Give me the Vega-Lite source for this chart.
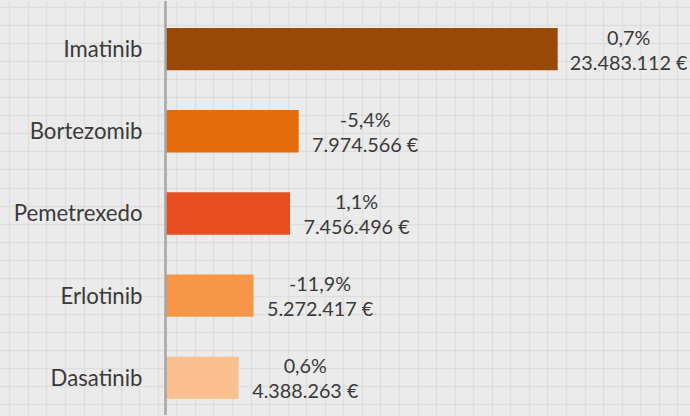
{
  "$schema": "https://vega.github.io/schema/vega-lite/v6.json",
  "width": 690,
  "height": 416,
  "autosize": {"type": "fit", "contains": "padding"},
  "padding": 0,
  "background": "#ebebeb",
  "config": {
    "view": {"stroke": null},
    "font": "Lato",
    "locale": {"number": {"decimal": ",", "thousands": ".", "grouping": [3], "currency": ["", " €"], "minus": "-"}}
  },
  "data": {
    "values": [
      {"farmaco": "Imatinib", "importe": 23483112, "variacion": 0.007},
      {"farmaco": "Bortezomib", "importe": 7974566, "variacion": -0.054},
      {"farmaco": "Pemetrexedo", "importe": 7456496, "variacion": 0.011},
      {"farmaco": "Erlotinib", "importe": 5272417, "variacion": -0.119},
      {"farmaco": "Dasatinib", "importe": 4388263, "variacion": 0.006}
    ]
  },
  "layer": [
    {
      "mark": {"type": "point", "opacity": 0},
      "encoding": {
        "x": {
          "datum": 0, "type": "quantitative",
          "scale": {"domain": [-0.501, 36.68], "nice": false, "zero": false},
          "axis": {"values": [0,1,2,3,4,5,6,7,8,9,10,11,12,13,14,15,16,17,18,19,20,21,22,23,24,25,26,27,28,29,30,31,32,33,34,35,36], "grid": true, "gridColor": "#dedede", "gridWidth": 1.5, "labels": false, "ticks": false, "domain": false, "title": null}
        },
        "y": {
          "datum": 0, "type": "quantitative",
          "scale": {"domain": [-0.331, 22.6], "nice": false, "zero": false, "reverse": true},
          "axis": {"values": [0,1,2,3,4,5,6,7,8,9,10,11,12,13,14,15,16,17,18,19,20,21,22], "grid": true, "gridColor": "#dedede", "gridWidth": 1.5, "labels": false, "ticks": false, "domain": false, "title": null}
        }
      }
    },
    {
      "layer": [
        {
          "mark": {"type": "bar"},
          "encoding": {
            "x": {"field": "importe", "type": "quantitative", "scale": {"domain": [-9909313, 31404438], "nice": false, "zero": false}, "axis": null},
            "y": {"field": "farmaco", "type": "nominal", "sort": null, "scale": {"paddingInner": 0.485, "paddingOuter": 0.2605, "align": 0.628, "round": false}, "axis": null},
            "color": {"field": "farmaco", "type": "nominal", "scale": {"domain": ["Imatinib", "Bortezomib", "Pemetrexedo", "Erlotinib", "Dasatinib"], "range": ["#984807", "#e46c0a", "#e74f22", "#f79646", "#fac090"]}, "legend": null}
          }
        },
        {
          "mark": {"type": "rule", "color": "#a6a6a6", "strokeWidth": 1.5},
          "encoding": {"x": {"datum": 0, "type": "quantitative"}}
        },
        {
          "mark": {"type": "text", "align": "right", "baseline": "alphabetic", "dx": -23, "dy": 8, "fontSize": 22.2, "color": "#3a3a3a"},
          "encoding": {
            "x": {"datum": 0, "type": "quantitative"},
            "y": {"field": "farmaco", "type": "nominal", "sort": null},
            "text": {"field": "farmaco"}
          }
        },
        {
          "transform": [{"filter": "datum.farmaco === 'Imatinib'"}],
          "mark": {"type": "text", "align": "center", "baseline": "alphabetic", "dx": 71, "dy": -4.5, "fontSize": 19.8, "color": "#3a3a3a"},
          "encoding": {
            "x": {"field": "importe", "type": "quantitative"},
            "y": {"field": "farmaco", "type": "nominal", "sort": null},
            "text": {"field": "variacion", "type": "quantitative", "format": ".1%"}
          }
        },
        {
          "transform": [{"filter": "datum.farmaco === 'Imatinib'"}],
          "mark": {"type": "text", "align": "center", "baseline": "alphabetic", "dx": 71, "dy": 20.5, "fontSize": 19.8, "color": "#3a3a3a"},
          "encoding": {
            "x": {"field": "importe", "type": "quantitative"},
            "y": {"field": "farmaco", "type": "nominal", "sort": null},
            "text": {"field": "importe", "type": "quantitative", "format": "$,.0f"}
          }
        },
        {
          "transform": [{"filter": "datum.farmaco !== 'Imatinib'"}],
          "mark": {"type": "text", "align": "center", "baseline": "alphabetic", "dx": 66.5, "dy": -4.5, "fontSize": 19.8, "color": "#3a3a3a"},
          "encoding": {
            "x": {"field": "importe", "type": "quantitative"},
            "y": {"field": "farmaco", "type": "nominal", "sort": null},
            "text": {"field": "variacion", "type": "quantitative", "format": ".1%"}
          }
        },
        {
          "transform": [{"filter": "datum.farmaco !== 'Imatinib'"}],
          "mark": {"type": "text", "align": "center", "baseline": "alphabetic", "dx": 66.5, "dy": 20.5, "fontSize": 19.8, "color": "#3a3a3a"},
          "encoding": {
            "x": {"field": "importe", "type": "quantitative"},
            "y": {"field": "farmaco", "type": "nominal", "sort": null},
            "text": {"field": "importe", "type": "quantitative", "format": "$,.0f"}
          }
        }
      ]
    }
  ],
  "resolve": {"scale": {"x": "independent", "y": "independent"}, "axis": {"x": "independent", "y": "independent"}}
}
